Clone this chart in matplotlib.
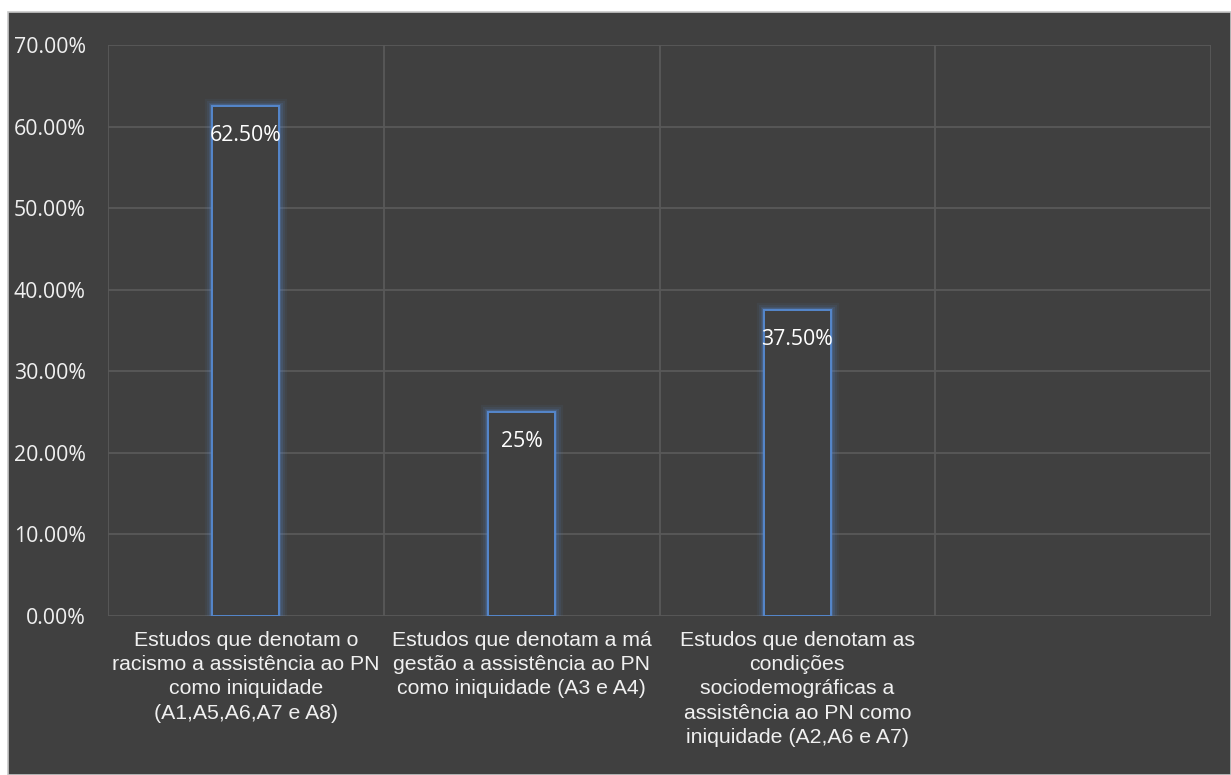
import numpy as np
import matplotlib.pyplot as plt
from matplotlib.patches import Rectangle
from matplotlib.ticker import FuncFormatter

categories = ['Estudos que denotam o\nracismo a assistência ao PN\ncomo iniquidade\n(A1,A5,A6,A7 e A8)',
              'Estudos que denotam a má\ngestão a assistência ao PN\ncomo iniquidade (A3 e A4)',
              'Estudos que denotam as\ncondições\nsociodemográficas a\nassistência ao PN como\niniquidade (A2,A6 e A7)',
              '']
values = [0.625, 0.25, 0.375, np.nan]
value_labels = ['62.50%', '25%', '37.50%', '']
yticks = [0, 0.1, 0.2, 0.3, 0.4, 0.5, 0.6, 0.7]

bg = '#404040'
blue = '#5587cc'

fig = plt.figure(figsize=(12.31, 7.75), dpi=100)
fig.patch.set_facecolor('white')
fig.patches.append(Rectangle((8/1231, 0), 1 - 8/1231, 763/775, transform=fig.transFigure,
                             facecolor=bg, edgecolor='#c8c8c8', linewidth=1.2, zorder=-10))

ax = fig.add_axes([108/1231, 159/775, 1103/1231, 571/775])
ax.set_facecolor(bg)
x = np.arange(len(categories))

# glow around the bars
for lw, a in [(11, 0.07), (8, 0.1), (5, 0.16), (3, 0.25)]:
    ax.bar(x, values, width=0.243, facecolor='none', edgecolor=blue, linewidth=lw, alpha=a, zorder=2)
ax.bar(x, values, width=0.243, facecolor=bg, edgecolor=blue, linewidth=1.4, zorder=3)

for xi, v, lab in zip(x, values, value_labels):
    if lab:
        ax.annotate(lab, xy=(xi, v), xytext=(0, -29), textcoords='offset pixels',
                    ha='center', va='center', color='white', fontsize=15.3, family='Open Sans', zorder=4)

ax.set_xlim(-0.5, 3.5)
ax.set_ylim(0, 0.7)
ax.set_yticks(yticks)
ax.yaxis.set_major_formatter(FuncFormatter(lambda v, p: '%.2f%%' % (v * 100)))
ax.set_xticks(x)
ax.set_xticklabels(categories, fontsize=15.3, family='Liberation Sans', color='#f0f0f0', linespacing=1.34)
ax.set_xticks(np.arange(-0.5, 4, 1), minor=True)
ax.grid(which='minor', axis='x', color='#595959', linewidth=1.3)
ax.grid(which='major', axis='y', color='#595959', linewidth=1.3)
ax.set_axisbelow(True)
ax.tick_params(axis='y', length=0, pad=16, labelsize=15.3, labelcolor='#f0f0f0')
ax.tick_params(axis='x', which='both', length=0, pad=11)
for t in ax.get_yticklabels():
    t.set_family('Open Sans')
for s in ax.spines.values():
    s.set_visible(False)

fig.savefig('out.png', dpi=100, facecolor=fig.get_facecolor())
